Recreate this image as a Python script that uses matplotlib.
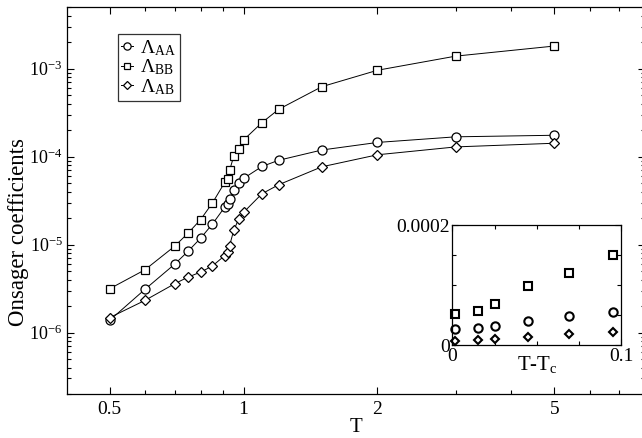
import numpy as np
import matplotlib
matplotlib.use('Agg')
import matplotlib.pyplot as plt
from matplotlib.ticker import LogLocator, FixedLocator, FixedFormatter, LogFormatterMathtext, MultipleLocator, NullFormatter

plt.rcParams['font.family'] = ['Liberation Serif', 'DejaVu Serif']
plt.rcParams['mathtext.fontset'] = 'custom'
plt.rcParams['mathtext.rm'] = 'Liberation Serif'
plt.rcParams['mathtext.it'] = 'Liberation Serif:italic'

## data
T = [0.5, 0.6, 0.7, 0.75, 0.8, 0.85, 0.907, 0.92, 0.93, 0.95, 0.975, 1.0,
     1.1, 1.2, 1.5, 2.0, 3.0, 5.0]
L_AA = [1.38e-6, 3.1e-6, 6.0e-6, 8.4e-6, 1.18e-5, 1.70e-5, 2.67e-5, 2.9e-5, 3.3e-5,
        4.15e-5, 5.0e-5, 5.66e-5, 7.74e-5, 9.1e-5, 1.19e-4, 1.45e-4, 1.68e-4, 1.75e-4]
L_BB = [3.15e-6, 5.17e-6, 9.6e-6, 1.35e-5, 1.92e-5, 2.95e-5, 5.1e-5, 5.5e-5, 7.0e-5,
        1.01e-4, 1.22e-4, 1.55e-4, 2.44e-4, 3.46e-4, 6.25e-4, 9.6e-4, 1.39e-3, 1.81e-3]
L_AB = [1.48e-6, 2.32e-6, 3.59e-6, 4.27e-6, 4.86e-6, 5.69e-6, 7.5e-6, 8.2e-6, 9.75e-6,
        1.45e-5, 1.96e-5, 2.33e-5, 3.79e-5, 4.80e-5, 7.67e-5, 1.05e-4, 1.29e-4, 1.42e-4]

# inset: T - Tc
dT = [0.0015, 0.015, 0.025, 0.045, 0.069, 0.095]
in_AA = [2.67e-5, 2.93e-5, 3.27e-5, 4.1e-5, 4.9e-5, 5.55e-5]
in_BB = [5.2e-5, 5.7e-5, 6.93e-5, 9.9e-5, 1.2e-4, 1.505e-4]
in_AB = [7.7e-6, 8.3e-6, 1.05e-5, 1.38e-5, 1.83e-5, 2.27e-5]

xticks = [0.5, 1, 2, 5]
xticklabels = ['0.5', '1', '2', '5']

fig = plt.figure(figsize=(6.42, 4.38), dpi=100)
ax = fig.add_axes([0.1039, 0.1005, 0.901, 0.883])

mfc = 'white'
ax.plot(T, L_AA, '-', color='black', lw=0.7, marker='o', ms=6.5, mfc=mfc, mec='black', mew=0.9,
        label=r'$\Lambda_{\mathrm{AA}}$')
ax.plot(T, L_BB, '-', color='black', lw=0.7, marker='s', ms=6, mfc=mfc, mec='black', mew=0.9,
        label=r'$\Lambda_{\mathrm{BB}}$')
ax.plot(T, L_AB, '-', color='black', lw=0.7, marker='D', ms=4.8, mfc=mfc, mec='black', mew=0.9,
        label=r'$\Lambda_{\mathrm{AB}}$')

ax.set_xscale('log')
ax.set_yscale('log')
ax.set_xlim(0.4, 8)
ax.set_ylim(2e-7, 5e-3)

ax.xaxis.set_major_locator(FixedLocator(xticks))
ax.xaxis.set_major_formatter(FixedFormatter(xticklabels))
ax.xaxis.set_minor_locator(FixedLocator([0.6, 0.7, 0.8, 0.9, 3, 4, 6, 7]))
ax.xaxis.set_minor_formatter(NullFormatter())
ax.yaxis.set_major_locator(LogLocator(base=10, numticks=10))
ax.yaxis.set_major_formatter(LogFormatterMathtext())
ax.yaxis.set_minor_locator(LogLocator(base=10, subs=np.arange(2, 10), numticks=20))
ax.yaxis.set_minor_formatter(NullFormatter())

ax.tick_params(which='both', direction='in', top=True, right=True, width=0.8)
ax.tick_params(which='major', length=5)
ax.tick_params(which='minor', length=3)
ax.tick_params(axis='x', which='major', pad=5, labelsize=14)
ax.tick_params(axis='y', which='major', pad=3, labelsize=13)
for s in ax.spines.values():
    s.set_linewidth(0.9)

ax.set_xlabel('T', fontsize=15, labelpad=0)
ax.set_ylabel('Onsager coefficients', fontsize=16.5)
ax.yaxis.set_label_coords(-0.066, 0.418)

leg = ax.legend(loc='upper left', bbox_to_anchor=(0.088, 0.931), fontsize=14, frameon=True,
                fancybox=False, edgecolor='black', handlelength=0.6, handletextpad=0.35,
                labelspacing=0.0, borderpad=0.2, borderaxespad=0, markerscale=0.8)
leg.get_frame().set_linewidth(0.9)

## inset
ins = fig.add_axes([0.7048, 0.2116, 0.2629, 0.2747])
ins.plot(dT, in_AA, 'o', ms=6, mfc='white', mec='black', mew=1.5, clip_on=False)
ins.plot(dT, in_BB, 's', ms=5.5, mfc='white', mec='black', mew=1.5, clip_on=False)
ins.plot(dT, in_AB, 'D', ms=4.5, mfc='white', mec='black', mew=1.5, clip_on=False)
ins.set_xlim(0, 0.1)
ins.set_ylim(0, 0.0002)
ins.xaxis.set_major_locator(FixedLocator([0, 0.1]))
ins.xaxis.set_major_formatter(FixedFormatter(['0', '0.1']))
ins.xaxis.set_minor_locator(MultipleLocator(0.025))
ins.yaxis.set_major_locator(FixedLocator([0, 0.0002]))
ins.yaxis.set_major_formatter(FixedFormatter(['0', '0.0002']))
ins.yaxis.set_minor_locator(MultipleLocator(0.00005))
ins.tick_params(which='both', direction='in', top=True, right=True, labelsize=14, width=0.8, pad=2)
ins.tick_params(which='major', length=4)
ins.tick_params(which='minor', length=3)
for s in ins.spines.values():
    s.set_linewidth(0.9)
ins.set_xlabel(r'T-T$_{\mathrm{c}}$', fontsize=15, labelpad=-8)

fig.savefig('out.png', dpi=100)
